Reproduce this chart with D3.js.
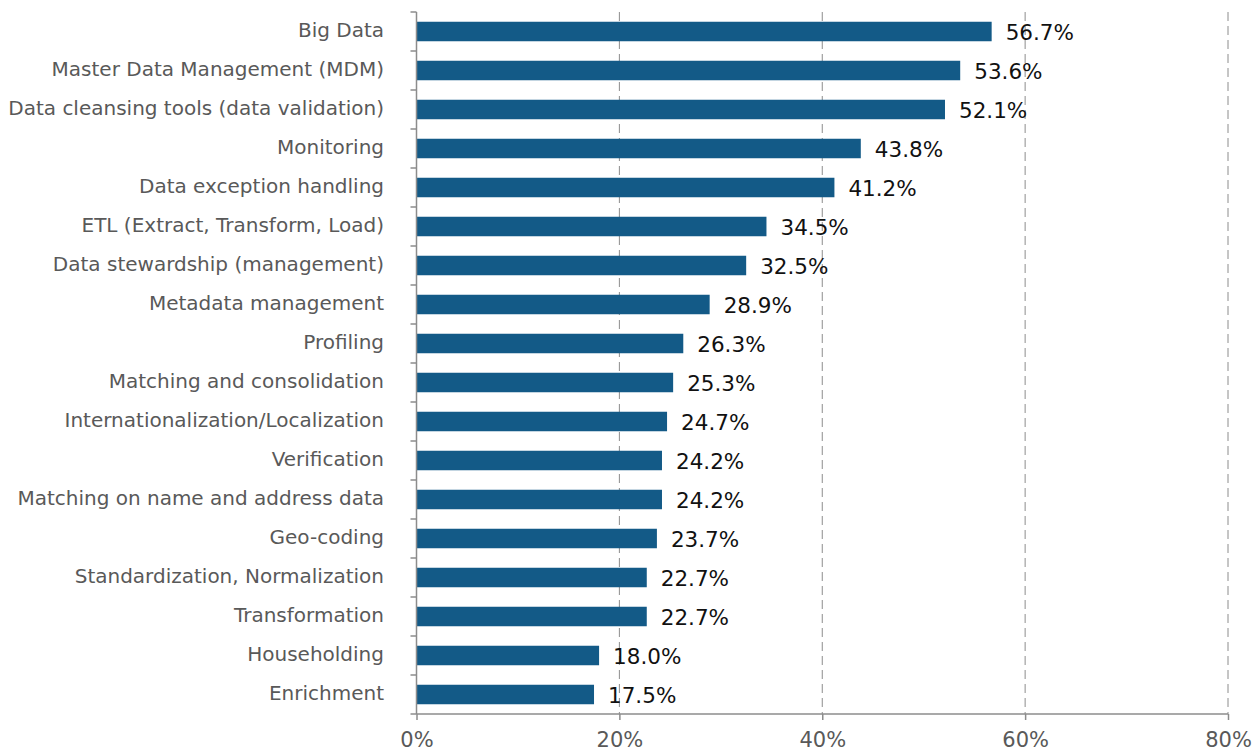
<!DOCTYPE html>
<html>
<head>
<meta charset="utf-8">
<script src="https://cdn.jsdelivr.net/npm/d3@7"></script>
<style>
  body { margin: 0; background: #fff; }
  text { font-family: "DejaVu Sans", sans-serif; }
</style>
</head>
<body>
<svg width="1255" height="755"></svg>
<script>
// categories and shares, top to bottom
var categories = [
  "Big Data", "Master Data Management (MDM)", "Data cleansing tools (data validation)",
  "Monitoring", "Data exception handling", "ETL (Extract, Transform, Load)",
  "Data stewardship (management)", "Metadata management", "Profiling",
  "Matching and consolidation", "Internationalization/Localization", "Verification",
  "Matching on name and address data", "Geo-coding", "Standardization, Normalization",
  "Transformation", "Householding", "Enrichment"
];
var values = [56.7, 53.6, 52.1, 43.8, 41.2, 34.5, 32.5, 28.9, 26.3, 25.3, 24.7, 24.2, 24.2, 23.7, 22.7, 22.7, 18.0, 17.5];
var ticks = [0, 20, 40, 60, 80];

var svg = d3.select("svg");
// plot edges (window.top is reserved, so prefixed names)
var pLeft = 416.5, pRight = 1228, pTop = 12, pBottom = 714;

var x = d3.scaleLinear().domain([0, 80]).range([pLeft, pRight]);
var y = d3.scaleBand().domain(categories).range([pTop, pBottom]).paddingInner(0.5).paddingOuter(0.25);

// dashed grid
svg.append("g").selectAll("line")
  .data(ticks.slice(1))
  .enter().append("line")
  .attr("x1", function(d) { return x(d); })
  .attr("x2", function(d) { return x(d); })
  .attr("y1", pTop)
  .attr("y2", pBottom)
  .attr("stroke", "#8c8c8c")
  .attr("stroke-width", 1)
  .attr("stroke-dasharray", "9,5");

// bars
svg.append("g").selectAll("rect")
  .data(values)
  .enter().append("rect")
  .attr("x", x(0))
  .attr("y", function(d, i) { return y(categories[i]); })
  .attr("width", function(d) { return x(d) - x(0); })
  .attr("height", y.bandwidth())
  .attr("fill", "#135a87");

// value labels
svg.append("g").selectAll("text")
  .data(values)
  .enter().append("text")
  .attr("x", function(d) { return x(d) + 14; })
  .attr("y", function(d, i) { return y(categories[i]) + y.bandwidth() / 2 + 1; })
  .attr("dy", "0.35em")
  .attr("font-size", 21.5)
  .attr("fill", "#111")
  .text(function(d) { return d.toFixed(1) + "%"; });

// y axis: line with ticks at band boundaries
var ya = svg.append("g");
ya.append("line")
  .attr("x1", pLeft).attr("x2", pLeft)
  .attr("y1", pTop).attr("y2", pBottom)
  .attr("stroke", "#8c8c8c").attr("stroke-width", 1.5);
var step = y.step();
ya.selectAll("line.tk")
  .data(d3.range(categories.length + 1))
  .enter().append("line")
  .attr("class", "tk")
  .attr("x1", pLeft - 6).attr("x2", pLeft)
  .attr("y1", function(i) { return pTop + i * step; })
  .attr("y2", function(i) { return pTop + i * step; })
  .attr("stroke", "#8c8c8c").attr("stroke-width", 1.5);
ya.selectAll("text")
  .data(categories)
  .enter().append("text")
  .attr("x", 384)
  .attr("y", function(d) { return y(d) + y.bandwidth() / 2 - 2; })
  .attr("dy", "0.35em")
  .attr("text-anchor", "end")
  .attr("font-size", 20)
  .attr("fill", "#595959")
  .text(function(d) { return d; });

// x axis
var xa = svg.append("g").attr("transform", "translate(0," + pBottom + ")")
  .call(d3.axisBottom(x).tickValues(ticks).tickSize(6).tickPadding(12)
    .tickFormat(function(d) { return d + "%"; }));
xa.select(".domain").attr("stroke", "#8c8c8c").attr("stroke-width", 1.5)
  .attr("d", "M" + pLeft + ",0H" + pRight);
xa.selectAll(".tick line").attr("stroke", "#8c8c8c").attr("stroke-width", 1.5);
xa.selectAll(".tick text").attr("font-size", 21).attr("fill", "#595959")
  .attr("font-family", "DejaVu Sans, sans-serif");
</script>
</body>
</html>
